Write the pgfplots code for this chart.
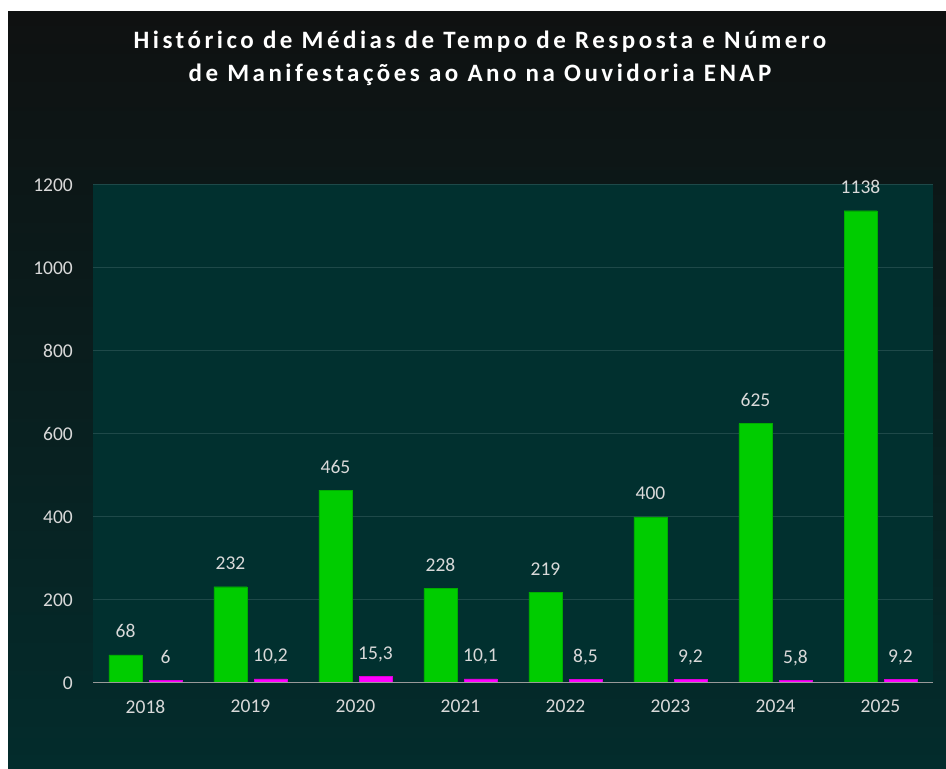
\documentclass[border=0pt]{standalone}
\usepackage{fontspec}
\setmainfont{Carlito}
\newfontfamily\titlefont[LetterSpace=14]{Carlito}
\usepackage{pgfplots}
\pgfplotsset{compat=1.18}
\definecolor{bgtop}{HTML}{0F1111}
\definecolor{bgbot}{HTML}{032C2C}
\definecolor{plotbg}{HTML}{01302F}
\definecolor{gridc}{HTML}{1E4949}
\definecolor{barg}{HTML}{00CC00}
\definecolor{barm}{HTML}{FF00FF}
\definecolor{txt}{HTML}{D9D9D9}
\pgfkeys{/pgf/number format/.cd, use comma, 1000 sep={}, assume math mode=true}
\begin{document}
\begin{tikzpicture}
\path[use as bounding box] (0bp,0bp) rectangle (946bp,769bp);
\fill[white] (0bp,0bp) rectangle (946bp,769bp);
\shade[top color=bgtop, bottom color=bgbot] (8bp,0bp) rectangle (946bp,757bp);
\begin{axis}[
  at={(93bp,86bp)}, anchor=south west, scale only axis,
  width=840bp, height=498bp,
  ybar=7bp, bar width=33bp,
  xmin=-0.5, xmax=7.5, ymin=0, ymax=1200,
  xtick={0,1,2,3,4,5,6,7},
  xticklabels={2018,2019,2020,2021,2022,2023,2024,2025},
  ytick={0,200,400,600,800,1000,1200},
  axis background/.style={fill=plotbg},
  axis line style={draw=none},
  ymajorgrids, grid style={gridc, line width=1bp},
  major tick length=0pt,
  tick label style={font=\fontsize{19.5bp}{22bp}\selectfont, text=txt, inner sep=0pt},
  yticklabel style={anchor=east, xshift=-20bp},
  xticklabel style={anchor=north, yshift=-17bp},
  nodes near coords,
  every node near coord/.append style={anchor=base, inner sep=0pt, yshift=17bp,
     font=\fontsize{19.5bp}{22bp}\selectfont, text=txt},
]
\addplot[fill=barg, draw=barg!85!black] coordinates {(0,68) (1,232) (2,465) (3,228) (4,219) (5,400) (6,625) (7,1138)};
\addplot[fill=barm, draw=barm!85!black] coordinates {(0,6) (1,10.2) (2,15.3) (3,10.1) (4,8.5) (5,9.2) (6,5.8) (7,9.2)};
\draw[color=gray!80, line width=2bp] (axis cs:-0.5,0) -- (axis cs:7.5,0);
\end{axis}
\node[font=\titlefont\bfseries\fontsize{25bp}{33bp}\selectfont, text=white, align=center, anchor=center] at (480bp,710.5bp)
  {Histórico de Médias de Tempo de Resposta e Número\\de Manifestações ao Ano na Ouvidoria ENAP};
\end{tikzpicture}
\end{document}
